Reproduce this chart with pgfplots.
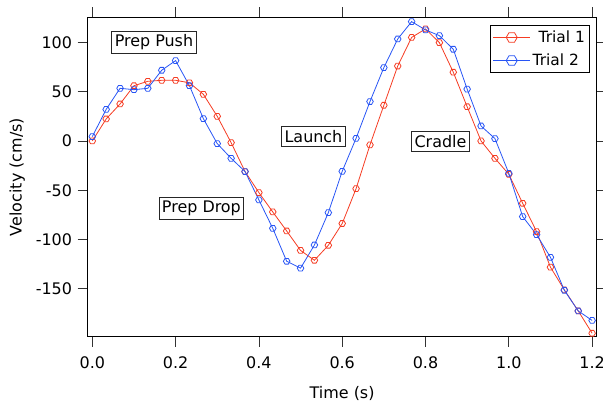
\documentclass[border=0pt]{standalone}
\usepackage{fontspec}
\setmainfont{DejaVu Sans}
\usepackage{pgfplots}
\pgfplotsset{compat=1.18}

\definecolor{trialred}{RGB}{245,60,35}
\definecolor{trialblue}{RGB}{40,85,245}

% open hexagon marker, like the Igor one
\pgfdeclareplotmark{hexagon}{%
  \pgfpathmoveto{\pgfqpointpolar{0}{\pgfplotmarksize}}%
  \pgfpathlineto{\pgfqpointpolar{60}{\pgfplotmarksize}}%
  \pgfpathlineto{\pgfqpointpolar{120}{\pgfplotmarksize}}%
  \pgfpathlineto{\pgfqpointpolar{180}{\pgfplotmarksize}}%
  \pgfpathlineto{\pgfqpointpolar{240}{\pgfplotmarksize}}%
  \pgfpathlineto{\pgfqpointpolar{300}{\pgfplotmarksize}}%
  \pgfpathclose
  \pgfusepathqstroke
}

\newcommand{\labfont}{\fontsize{16}{19}\selectfont}

\begin{document}
\labfont
\begin{tikzpicture}
\begin{axis}[
    scale only axis,
    width=509.2bp, height=319.4bp,
    xmin=-0.0115, xmax=1.211,
    ymin=-198.5, ymax=125.4,
    xtick={0,0.2,0.4,0.6,0.8,1.0,1.2},
    ytick={-150,-100,-50,0,50,100},
    xticklabel style={/pgf/number format/fixed,
        /pgf/number format/fixed zerofill,
        /pgf/number format/precision=1, yshift=-4bp},
    /pgf/number format/assume math mode=true,
    tick align=outside,
    major tick length=10bp,
    tick style={black!80, line width=0.8bp},
    axis line style={black, line width=0.8bp},
    tick label style={font=\labfont},
    label style={font=\labfont},
    xlabel={Time (s)},
    xlabel style={yshift=-7bp},
    ylabel={Velocity (cm/s)},
    clip=false,
    legend style={at={(0.9855,0.976)}, anchor=north east,
        draw=black, line width=0.8bp, fill=white,
        font=\fontsize{15.5}{18}\selectfont,
        inner xsep=2bp, inner ysep=3bp, row sep=5bp},
    legend cell align=left,
    every axis plot/.append style={line width=0.8bp, mark=hexagon, mark size=3.3bp},
    legend image code/.code={%
        \draw[mark repeat=2,mark phase=2,#1,mark size=5.5bp]
            plot coordinates {(0bp,0bp) (18.5bp,0bp) (37bp,0bp)};},
]
\addplot[trialred] coordinates {
(0.0000,0) (0.0333,22.3) (0.0667,37.5) (0.1000,56) (0.1333,60.5)
(0.1667,61.5) (0.2000,61.5) (0.2333,59) (0.2667,47.3) (0.3000,25)
(0.3333,-1.7) (0.3667,-31) (0.4000,-52.4) (0.4333,-72) (0.4667,-91.3)
(0.5000,-111) (0.5333,-121) (0.5667,-105.8) (0.6000,-83.7) (0.6333,-48.4)
(0.6667,-4) (0.7000,36.2) (0.7333,76) (0.7667,105) (0.8000,113.6)
(0.8333,99.7) (0.8667,69.7) (0.9000,34.7) (0.9333,0) (0.9667,-17.6)
(1.0000,-33.8) (1.0333,-63.2) (1.0667,-92) (1.1000,-128) (1.1333,-151)
(1.1667,-172.4) (1.2000,-195)
};
\addlegendentry{\kern6bp Trial 1}
\addplot[trialblue] coordinates {
(0.0000,4.4) (0.0333,32) (0.0667,53.4) (0.1000,52) (0.1333,53.4)
(0.1667,71.7) (0.2000,81.5) (0.2333,56) (0.2667,22.6) (0.3000,-2.7)
(0.3333,-17.6) (0.3667,-31) (0.4000,-59.8) (0.4333,-88.6) (0.4667,-122)
(0.5000,-129) (0.5333,-105.5) (0.5667,-72.7) (0.6000,-30.8) (0.6333,2.7)
(0.6667,40) (0.7000,74.4) (0.7333,103.4) (0.7667,121) (0.8000,112.6)
(0.8333,106.8) (0.8667,93) (0.9000,52.6) (0.9333,15.2) (0.9667,2.4)
(1.0000,-32.8) (1.0333,-76.7) (1.0667,-95) (1.1000,-118) (1.1333,-151.4)
(1.1667,-172.4) (1.2000,-182)
};
\addlegendentry{Trial 2}

\tikzset{ann/.style={draw=black!85, line width=0.8bp, fill=white,
    inner xsep=3bp, inner ysep=3.5bp, font=\labfont}}
\node[ann] at (axis cs:0.148,100) {Prep Push};
\node[ann] at (axis cs:0.531,4.6) {Launch};
\node[ann] at (axis cs:0.262,-68.7) {Prep Drop};
\node[ann] at (axis cs:0.836,-0.3) {Cradle};
\end{axis}
\pgfresetboundingbox
\path[use as bounding box] ([shift={(-87.5bp,-69.3bp)}]current axis.south west)
    rectangle ([shift={(6.3bp,17.3bp)}]current axis.north east);
\end{tikzpicture}
\end{document}
